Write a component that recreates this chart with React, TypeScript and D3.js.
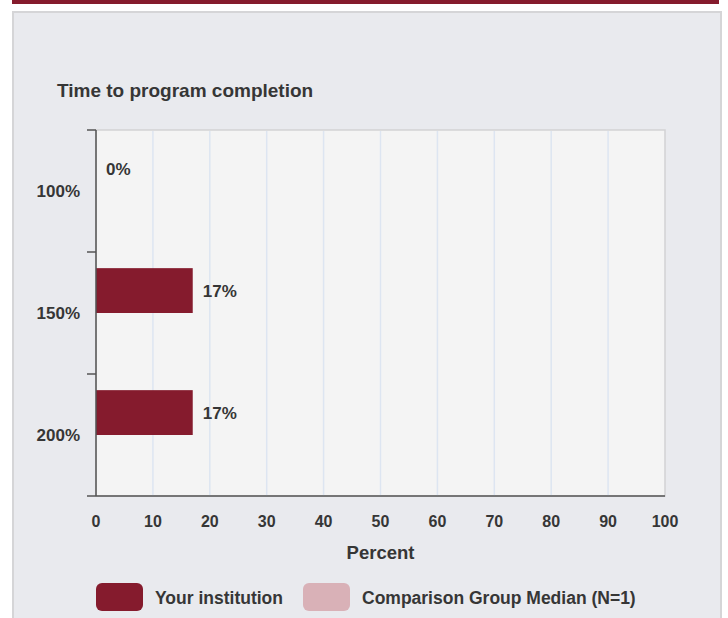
import * as d3 from "d3";

const categories = ["100%", "150%", "200%"];
const institution = [0, 17, 17];
const comparison: (number | null)[] = [null, null, null];
const seriesNames = ["Your institution", "Comparison Group Median (N=1)"];
const xTicks = [0, 10, 20, 30, 40, 50, 60, 70, 80, 90, 100];

const colors = ["#851b2d", "#d9b1b7"];
const font = "'Liberation Sans', Arial, sans-serif";
const textColor = "#363636";

export default function App() {
  const W = 728;
  const H = 618;
  const plot = { left: 96, right: 665, top: 130, bottom: 496 };

  const x = d3.scaleLinear().domain([0, 100]).range([plot.left, plot.right]);
  const y = d3
    .scaleBand<string>()
    .domain(categories)
    .range([plot.top, plot.bottom])
    .paddingInner(0);
  const inner = d3
    .scaleBand<string>()
    .domain(["inst", "comp"])
    .range([0, y.bandwidth()])
    .paddingOuter(0.36);

  const bandEdges = [...categories.map((c) => y(c) as number), plot.bottom];

  return (
    <svg
      width={W}
      height={H}
      style={{ position: "absolute", left: 0, top: 0 }}
      fontFamily={font}
    >
      <rect x={0} y={0} width={W} height={H} fill="#fff" />
      <rect x={12} y={0} width={707} height={4} fill="#851b2d" />
      <rect
        x={13}
        y={12}
        width={708}
        height={H}
        fill="#e9eaee"
        stroke="#d5d5d7"
        strokeWidth={2}
      />

      <text x={57} y={97} fontSize={19} fontWeight={600} fill={textColor}>
        Time to program completion
      </text>

      {/* plot area */}
      <rect
        x={plot.left}
        y={plot.top}
        width={plot.right - plot.left}
        height={plot.bottom - plot.top}
        fill="#f4f4f4"
        stroke="#d2d2d4"
        strokeWidth={1.5}
      />
      {xTicks.slice(1, -1).map((t) => (
        <line
          key={`g-${t}`}
          x1={x(t)}
          x2={x(t)}
          y1={plot.top + 1}
          y2={plot.bottom}
          stroke="#dde5f1"
          strokeWidth={1.5}
        />
      ))}

      {/* bars */}
      {categories.map((c, i) => (
        <g key={`b-${c}`}>
          <rect
            x={x(0)}
            y={(y(c) as number) + (inner("inst") as number)}
            width={x(institution[i]) - x(0)}
            height={inner.bandwidth()}
            fill={colors[0]}
          />
          <text
            x={x(institution[i]) + 10}
            y={(y(c) as number) + (inner("inst") as number) + inner.bandwidth() / 2}
            dy="0.35em"
            fontSize={17}
            fontWeight={600}
            fill={textColor}
          >
            {`${institution[i]}%`}
          </text>
          {comparison[i] != null && (
            <rect
              x={x(0)}
              y={(y(c) as number) + (inner("comp") as number)}
              width={x(comparison[i] as number) - x(0)}
              height={inner.bandwidth()}
              fill={colors[1]}
            />
          )}
        </g>
      ))}

      {/* y axis */}
      <line
        x1={plot.left}
        x2={plot.left}
        y1={plot.top}
        y2={plot.bottom}
        stroke="#555"
        strokeWidth={1.5}
      />
      {bandEdges.map((e, i) => (
        <line
          key={`yt-${i}`}
          x1={plot.left - 9}
          x2={plot.left}
          y1={e}
          y2={e}
          stroke="#555"
          strokeWidth={1.5}
        />
      ))}
      {categories.map((c) => (
        <text
          key={`yl-${c}`}
          x={80}
          y={(y(c) as number) + y.bandwidth() / 2}
          dy="0.35em"
          textAnchor="end"
          fontSize={17}
          fontWeight={600}
          fill={textColor}
        >
          {c}
        </text>
      ))}

      {/* x axis */}
      <line
        x1={plot.left}
        x2={plot.right}
        y1={plot.bottom}
        y2={plot.bottom}
        stroke="#555"
        strokeWidth={1.5}
      />
      {xTicks.map((t) => (
        <text
          key={`xl-${t}`}
          x={x(t)}
          y={521}
          dy="0.35em"
          textAnchor="middle"
          fontSize={16}
          fontWeight={600}
          fill={textColor}
        >
          {t}
        </text>
      ))}
      <text
        x={(plot.left + plot.right) / 2}
        y={553}
        dy="0.35em"
        textAnchor="middle"
        fontSize={18.5}
        fontWeight={600}
        fill={textColor}
      >
        Percent
      </text>

      {/* legend */}
      {[96, 303].map((lx, i) => (
        <g key={`lg-${i}`}>
          <rect
            x={lx}
            y={583}
            width={47}
            height={28}
            rx={6}
            fill={colors[i]}
          />
          <text
            x={lx + 59}
            y={598}
            dy="0.35em"
            fontSize={17.5}
            fontWeight={600}
            fill={textColor}
          >
            {seriesNames[i]}
          </text>
        </g>
      ))}
    </svg>
  );
}
